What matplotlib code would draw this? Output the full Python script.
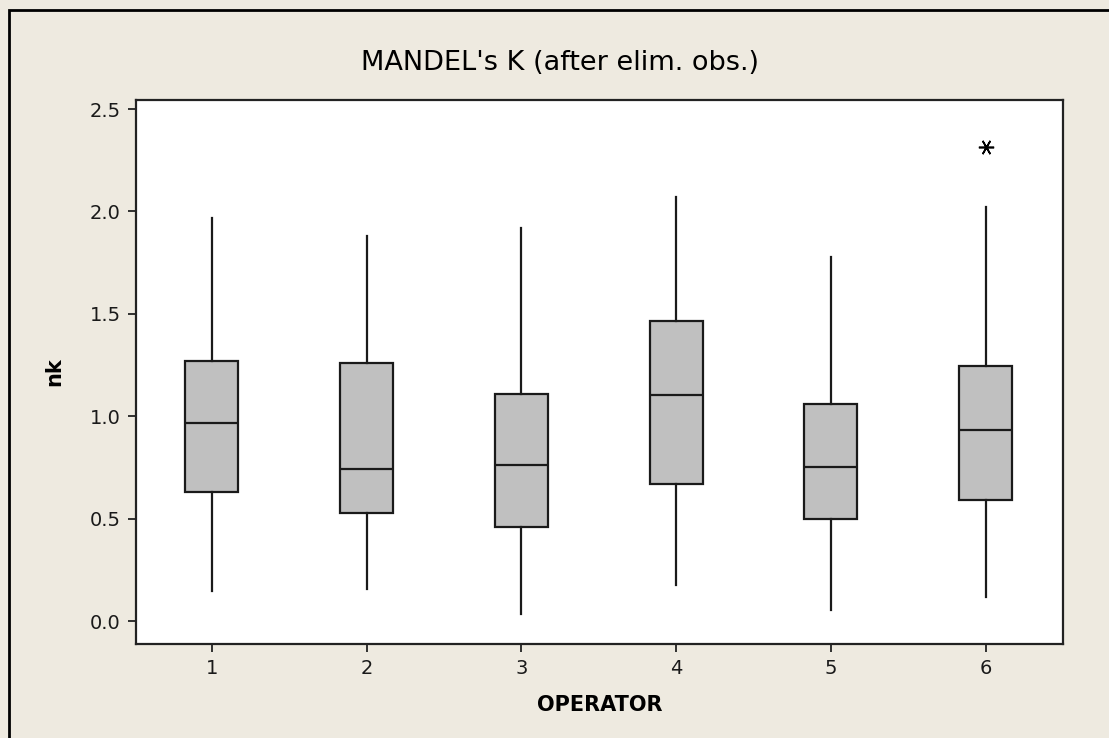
"""
   Boxplot of Mandel's k statistic per operator (after eliminating observations).
"""
import matplotlib.pyplot as plt
from matplotlib.patches import Rectangle

# values
operators = [1, 2, 3, 4, 5, 6]
q1 = [0.630, 0.527, 0.459, 0.667, 0.497, 0.591]
medians = [0.967, 0.742, 0.762, 1.105, 0.753, 0.931]
q3 = [1.270, 1.260, 1.107, 1.463, 1.060, 1.247]
whisker_low = [0.145, 0.155, 0.033, 0.174, 0.052, 0.117]
whisker_high = [1.966, 1.881, 1.921, 2.069, 1.779, 2.023]
outliers = [[], [], [], [], [], [2.315]]
y_ticks = [0.0, 0.5, 1.0, 1.5, 2.0, 2.5]

BG = "#eeeae0"

fig = plt.figure(figsize=(11.09, 7.38), dpi=100, facecolor=BG)
ax = fig.add_axes([136 / 1109, 94 / 738, 927 / 1109, 544 / 738])
ax.set_facecolor("white")

#     outer frame of the graph window (left and top edges visible)
fig.patches.append(Rectangle((9 / 1109, -0.2), 1.5, 0.2 + 1 - 10 / 738,
                             transform=fig.transFigure, fill=False,
                             edgecolor="black", linewidth=2))

stats = []
for i in range(len(operators)):
    stats.append({"label": str(operators[i]), "q1": q1[i], "med": medians[i],
                  "q3": q3[i], "whislo": whisker_low[i],
                  "whishi": whisker_high[i], "fliers": outliers[i]})

edge = "#1a1a1a"
ax.bxp(stats, positions=operators, widths=0.343, showcaps=False,
       patch_artist=True,
       boxprops=dict(facecolor="#c0c0c0", edgecolor=edge, linewidth=1.6),
       medianprops=dict(color=edge, linewidth=1.6),
       whiskerprops=dict(color=edge, linewidth=1.6),
       flierprops=dict(marker=(6, 2, 90), markersize=11,
                       markeredgecolor="black", markeredgewidth=1.2))

ax.set_xlim(0.51, 6.5)
ax.set_ylim(-0.112, 2.544)
ax.set_yticks(y_ticks)
ax.set_yticklabels(["%.1f" % v for v in y_ticks])

for s in ax.spines.values():
    s.set_linewidth(1.6)
    s.set_color("#222222")
ax.tick_params(direction="out", length=6, width=1.3, labelsize=14,
               color="#222222", labelcolor="#1a1a1a", pad=5)

ax.set_xlabel("OPERATOR", fontsize=15, fontweight="bold", labelpad=12)
ax.set_ylabel("nk", fontsize=15, fontweight="bold", labelpad=18)
fig.text(560 / 1109, 1 - 63 / 738, "MANDEL's K (after elim. obs.)",
         fontsize=19.5, ha="center", va="center")

fig.savefig("out.png", dpi=100, facecolor=BG)
